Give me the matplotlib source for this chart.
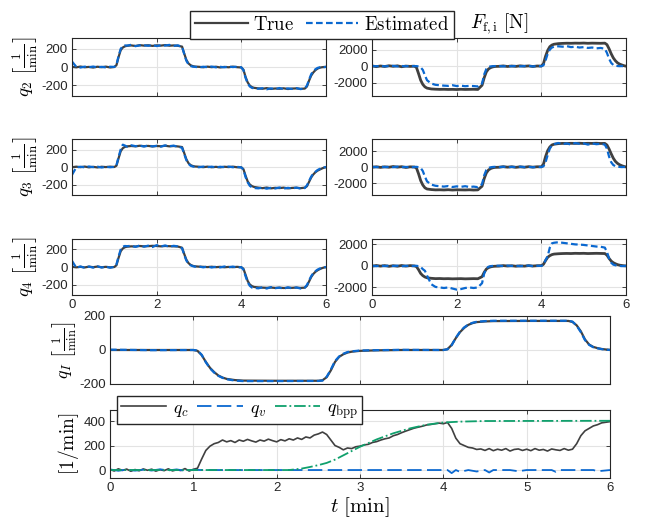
import numpy as np
import matplotlib
matplotlib.use('Agg')
import matplotlib.pyplot as plt

plt.rcParams['font.family'] = ['Liberation Sans', 'DejaVu Sans']
plt.rcParams['mathtext.fontset'] = 'cm'
plt.rcParams['axes.unicode_minus'] = False

GRAY = '#404040'
BLUE = '#0a68d0'
GREEN = '#0fa06c'
AXC = '#262626'

# time grid of the six small panels [min]
t_q = [0.0, 0.1, 0.2, 0.3, 0.4, 0.5, 0.6, 0.7, 0.8, 0.9, 1.0,
       1.05, 1.1, 1.15, 1.2, 1.25, 1.3,
       1.4, 1.5, 1.6, 1.7, 1.8, 1.9, 2.0, 2.1, 2.2, 2.3, 2.4, 2.5, 2.6,
       2.65, 2.7, 2.75, 2.8, 2.85, 2.9,
       3.0, 3.1, 3.2, 3.3, 3.4, 3.5, 3.6, 3.7, 3.8, 3.9, 4.0,
       4.05, 4.1, 4.15, 4.2, 4.25, 4.3,
       4.4, 4.5, 4.6, 4.7, 4.8, 4.9, 5.0, 5.1, 5.2, 5.3, 5.4, 5.5,
       5.55, 5.6, 5.65, 5.7, 5.75, 5.8, 5.85, 5.9, 5.95, 6.0]

# pump speeds q2..q4 [1/min]
q2_true = [2, -4, 5, -3, 1, -6, 3, -2, 4, -5, 0,
           20, 110, 185, 215, 228, 234,
           238, 232, 241, 236, 240, 233, 239, 236, 242, 235, 238, 234, 225,
           150, 80, 40, 20, 10, 5,
           2, -3, 4, -2, 3, -5, 1, -3, 4, -2, -5,
           -30, -110, -170, -205, -222, -230,
           -236, -240, -233, -242, -237, -240, -235, -243, -238, -236, -241, -238,
           -215, -150, -95, -60, -35, -18, -8, -3, 0, 2]
q2_est = [60, 3, -6, 4, -2, 5, -4, 2, -5, 3, 1,
          25, 120, 200, 230, 238, 236,
          245, 230, 238, 240, 234, 242, 231, 240, 236, 244, 232, 239, 222,
          145, 70, 30, 12, 4, 2,
          -4, 3, -2, 5, -4, 2, -3, 5, -1, 3, -4,
          -35, -120, -180, -215, -230, -236,
          -240, -234, -246, -236, -244, -232, -245, -236, -242, -233, -244, -236,
          -205, -140, -80, -45, -25, -10, -4, 0, -2, 1]
q3_true = [-3, 4, -2, 5, -4, 2, -5, 3, -1, 4, 0,
           15, 100, 180, 215, 230, 236,
           240, 236, 243, 238, 241, 235, 240, 237, 243, 236, 240, 235, 228,
           160, 90, 45, 22, 12, 6,
           3, -2, 4, -3, 2, -4, 3, -1, 4, -3, -4,
           -25, -100, -165, -200, -218, -228,
           -236, -242, -235, -244, -238, -241, -236, -244, -239, -237, -242, -236,
           -220, -170, -120, -85, -60, -42, -30, -18, -8, -2]
q3_est = [-90, -5, 3, -4, 6, -2, 4, -6, 2, -3, 1,
          20, 115, 200, 255, 245, 232,
          248, 238, 244, 234, 246, 236, 242, 233, 247, 238, 244, 232, 220,
          150, 80, 38, 15, 6, 2,
          -3, 5, -2, 4, -5, 3, -2, 5, -3, 2, -5,
          -30, -115, -175, -215, -232, -240,
          -244, -236, -248, -238, -246, -234, -247, -238, -244, -236, -246, -240,
          -210, -160, -110, -75, -55, -35, -22, -12, -5, 0]
q4_true = [3, -4, 2, -5, 4, -2, 5, -3, 2, -4, 0,
           20, 105, 180, 212, 226, 232,
           236, 234, 240, 236, 238, 242, 240, 236, 240, 238, 236, 234, 220,
           150, 85, 45, 25, 14, 8,
           4, 2, -1, 3, -2, 2, -3, 1, -2, 2, -3,
           -20, -90, -160, -200, -218, -228,
           -233, -236, -238, -235, -239, -236, -240, -237, -238, -235, -239, -236,
           -215, -165, -115, -80, -55, -38, -25, -14, -6, -2]
q4_est = [70, -8, 6, -9, 5, -7, 8, -6, 4, -8, 2,
          30, 120, 200, 232, 240, 238,
          242, 230, 246, 232, 244, 228, 250, 235, 246, 232, 242, 236, 215,
          140, 75, 38, 20, 10, 4,
          6, -4, 5, -6, 3, -5, 6, -3, 5, -6, -2,
          -30, -105, -175, -215, -235, -238,
          -244, -232, -246, -230, -242, -236, -248, -232, -244, -234, -246, -236,
          -205, -155, -105, -70, -48, -30, -18, -8, -4, 0]

# friction forces F_f,i [N]
f2_true = [30, -60, 20, -40, 50, -20, 40, -70, 10, -30, 0,
           -150, -900, -1700, -2200, -2500, -2650,
           -2750, -2780, -2800, -2790, -2810, -2800, -2820, -2790, -2810, -2800, -2790, -2810, -2300,
           -1400, -700, -350, -180, -90, -40,
           -20, 30, -40, 20, -30, 40, -10, 30, -40, 20, 10,
           300, 1200, 1900, 2350, 2550, 2650,
           2720, 2750, 2770, 2760, 2780, 2770, 2790, 2760, 2780, 2770, 2760, 2780,
           2600, 2100, 1500, 1000, 650, 400, 250, 150, 60, 0]
f2_est = [20, -10, 30, -20, 10, 40, -30, 20, -10, 30, 0,
          10, -30, -150, -450, -1100, -1700,
          -2100, -2250, -2300, -2350, -2380, -2300, -2400, -2350, -2420, -2380, -2400, -2450, -2100,
          -1000, -350, -100, -30, 0, 10,
          20, -30, 40, -10, 30, -20, 10, 40, -30, 20, 0,
          100, 700, 1500, 2000, 2250, 2350,
          2400, 2350, 2420, 2300, 2350, 2250, 2300, 2200, 2250, 2150, 2200, 2100,
          1600, 900, 400, 150, 50, 20, 0, 10, -10, 0]
f3_true = [-40, 30, -50, 20, -30, 60, -20, 40, -60, 20, 0,
           -120, -850, -1700, -2250, -2600, -2750,
           -2820, -2860, -2850, -2870, -2840, -2880, -2850, -2860, -2870, -2850, -2880, -2860, -2400,
           -1450, -750, -380, -200, -100, -50,
           -30, 40, -20, 30, -40, 20, -30, 40, -20, 30, 20,
           350, 1300, 2050, 2500, 2750, 2850,
           2920, 2950, 2940, 2960, 2950, 2970, 2940, 2960, 2950, 2970, 2940, 2950,
           2750, 2250, 1650, 1100, 700, 450, 280, 160, 70, 10]
f3_est = [30, -20, 40, -10, 20, -30, 50, -20, 10, -40, 0,
          20, -20, -120, -500, -1200, -1800,
          -2200, -2350, -2400, -2450, -2380, -2500, -2420, -2480, -2400, -2500, -2450, -2520, -2150,
          -1050, -380, -120, -40, 0, 20,
          -10, 30, -30, 20, -20, 40, -10, 20, -30, 10, 0,
          80, 600, 1500, 2300, 2700, 2850,
          3000, 2850, 2950, 2800, 3000, 2900, 2950, 2800, 2950, 2850, 2900, 2800,
          2300, 1300, 600, 250, 100, 40, 10, -10, 0, -20]
f4_true = [-30, 40, -20, 30, -40, 20, -30, 40, -20, 30, 0,
           -60, -350, -700, -900, -1030, -1100,
           -1150, -1180, -1170, -1190, -1180, -1200, -1190, -1180, -1200, -1190, -1180, -1190, -1000,
           -600, -300, -160, -90, -50, -30,
           -20, 30, -10, 20, -30, 10, -20, 30, -10, 20, 30,
           150, 500, 800, 950, 1050, 1100,
           1130, 1150, 1160, 1150, 1170, 1160, 1170, 1150, 1160, 1170, 1160, 1150,
           1000, 700, 450, 300, 200, 120, 70, 40, 15, 0]
f4_est = [20, -30, 40, -20, 30, -10, 20, -40, 10, -20, 0,
          10, -20, -100, -300, -450, -900,
          -1700, -1950, -2000, -2050, -2000, -2100, -2200, -2150, -2050, -2000, -2050, -2000, -1600,
          -700, -250, -80, -20, 0, 10,
          20, -20, 30, -10, 20, -30, 10, 30, -20, 10, 0,
          100, 550, 900, 1700, 2100, 2150,
          2200, 2150, 2100, 2050, 2000, 1980, 1950, 1900, 1850, 1800, 1780, 1700,
          1300, 700, 300, 120, 60, 20, 0, -20, -10, 0]

# q_I
t_I = [0.0, 0.5, 1.0,
       1.05, 1.1, 1.15, 1.2, 1.25, 1.3, 1.35, 1.4,
       1.5, 1.6, 2.0, 2.5,
       2.55, 2.6, 2.65, 2.7, 2.75, 2.8, 2.85, 2.9,
       3.0, 3.2, 3.5, 4.0,
       4.05, 4.1, 4.15, 4.2, 4.25, 4.3, 4.35, 4.4,
       4.5, 4.6, 5.0, 5.5,
       5.55, 5.6, 5.65, 5.7, 5.75, 5.8, 5.85, 5.9, 5.95, 6.0]
qI_true = [0, 0, 0,
           -5, -30, -70, -105, -130, -150, -162, -170,
           -177, -180, -181, -181,
           -178, -160, -120, -70, -40, -25, -15, -10,
           -5, -2, 0, 0,
           5, 30, 70, 105, 130, 148, 158, 164,
           168, 170, 171, 171,
           165, 145, 110, 62, 32, 18, 11, 6, 3, 1]
qI_est = [2, -1, 0,
          -3, -28, -72, -108, -133, -152, -164, -172,
          -180, -183, -183, -182,
          -180, -158, -115, -65, -38, -22, -12, -8,
          -3, -1, 1, 0,
          4, 28, 72, 108, 133, 150, 160, 166,
          170, 172, 172, 172,
          167, 143, 105, 58, 30, 16, 10, 5, 2, 0]

# flows, q_c sampled every 0.05 min
q_c = [5, -8, 10, -3, 8, -10, 4, -6, 9, -2, 7, -9, 3, -5, 10, -7, 2, -4, 12, -8,
       6, 15, 90, 160, 195, 215, 225, 245, 230, 240, 225, 245, 235, 250, 238, 228, 245, 236, 252, 240,
       230, 248, 238, 255, 245, 262, 250, 270, 262, 285, 295, 310, 290, 245, 200, 185, 165, 180, 175, 190,
       195, 205, 210, 225, 232, 245, 255, 262, 280, 290, 305, 318, 330, 342, 350, 358, 368, 372, 378, 383,
       378, 388, 340, 260, 215, 200, 185, 180, 168, 172, 160, 175, 158, 170, 162, 175, 155, 168, 172, 160,
       170, 158, 175, 162, 168, 155, 172, 165, 160, 175, 162, 170, 215, 280, 320, 340, 360, 370, 385, 390,
       395]
t_v = [0.0, 0.1, 0.2, 0.3, 0.4, 0.5, 0.6, 0.7, 0.8, 0.9, 1.0, 1.1,
       4.05, 4.1, 4.15, 4.2, 4.3, 4.4, 4.5, 4.55, 4.6, 4.8, 4.9, 5.0,
       5.3, 5.35, 5.4, 5.8, 5.85, 6.0]
q_v = [5, -6, 4, -5, 3, -4, 6, -3, 5, -6, 2, 0,
       0, -25, 0, -15, 0, -12, 0, -20, 0, 0, -10, 0,
       0, -15, 0, 0, -10, 0]
t_bpp = [0.0, 2.15, 2.3, 2.4, 2.5, 2.6, 2.7, 2.8, 2.9, 3.0, 3.2, 3.4, 3.6, 3.8, 4.0, 4.2, 4.5, 6.0]
q_bpp = [0, 0, 12, 25, 40, 58, 85, 120, 155, 190, 250, 300, 340, 370, 388, 395, 400, 402]

t_c = np.linspace(0, 6, len(q_c))


def style(ax, xt, yt, ylim, show_x):
    ax.set_xlim(0, 6)
    ax.set_ylim(*ylim)
    ax.set_xticks(xt)
    ax.set_yticks(yt)
    if not show_x:
        ax.set_xticklabels([])
    ax.grid(True, color='#e3e3e3', lw=0.8)
    ax.set_axisbelow(True)
    ax.tick_params(direction='in', length=3, width=0.6, top=True, right=True,
                   labelsize=9.5, colors=AXC, pad=3)
    for s in ax.spines.values():
        s.set_color(AXC)
        s.set_linewidth(0.8)


fig = plt.figure(figsize=(6.48, 5.23), dpi=100)
W, H = 648.0, 523.0

rows = [(38, 96), (139, 195), (239, 295)]
left_data = [(q2_true, q2_est, '2'), (q3_true, q3_est, '3'), (q4_true, q4_est, '4')]
right_data = [(f2_true, f2_est), (f3_true, f3_est), (f4_true, f4_est)]
right_ylims = [(-3600, 3400), (-3500, 3500), (-2700, 2500)]

for i, (y0, y1) in enumerate(rows):
    bot = 1 - y1 / H
    h = (y1 - y0) / H
    axl = fig.add_axes([72 / W, bot, 254 / W, h])
    tr, es, k = left_data[i]
    l1, = axl.plot(t_q, tr, color=GRAY, lw=1.6)
    l2, = axl.plot(t_q, es, color=BLUE, lw=1.6, dashes=(3, 1.5))
    style(axl, [0, 2, 4, 6], [-200, 0, 200], (-320, 320), i == 2)
    axl.set_ylabel(r'$q_%s\ \left[\frac{1}{\mathrm{min}}\right]$' % k, fontsize=13.5, labelpad=1)

    axr = fig.add_axes([372 / W, bot, 254 / W, h])
    tr, es = right_data[i]
    axr.plot(t_q, tr, color=GRAY, lw=2.0)
    axr.plot(t_q, es, color=BLUE, lw=1.6, dashes=(3, 1.5))
    style(axr, [0, 2, 4, 6], [-2000, 0, 2000], right_ylims[i], i == 2)
    if i == 0:
        axr.set_title(r'$F_{\mathrm{f,i}}\ [\mathrm{N}]$', fontsize=14, pad=7)

fig.legend([l1, l2], [r'$\mathrm{True}$', r'$\mathrm{Estimated}$'], loc='center',
           bbox_to_anchor=(322 / W, 1 - 25 / H), ncol=2, fontsize=13.5, handlelength=2.8,
           handletextpad=0.3, columnspacing=0.6, fancybox=False, framealpha=1,
           edgecolor=AXC, borderpad=0.25)

# q_I panel
axI = fig.add_axes([110 / W, 1 - 384 / H, 500 / W, 68 / H])
axI.plot(t_I, qI_true, color=GRAY, lw=1.6)
axI.plot(t_I, qI_est, color=BLUE, lw=1.6, dashes=(3, 1.5))
style(axI, [0, 1, 2, 3, 4, 5, 6], [-200, 0, 200], (-200, 200), False)
axI.set_ylabel(r'$q_I\ \left[\frac{1}{\mathrm{min}}\right]$', fontsize=13, labelpad=1)

# flows panel
axB = fig.add_axes([110 / W, 1 - 478 / H, 500 / W, 68 / H])
b1, = axB.plot(t_c, q_c, color=GRAY, lw=1.2)
b2, = axB.plot(t_v, q_v, color=BLUE, lw=1.3, dashes=(8, 3))
b3, = axB.plot(t_bpp, q_bpp, color=GREEN, lw=1.3, ls='-.')
style(axB, [0, 1, 2, 3, 4, 5, 6], [0, 200, 400], (-65, 490), True)
axB.set_ylabel(r'$[1/\mathrm{min}]$', fontsize=14, labelpad=2)
axB.set_xlabel(r'$t\ [\mathrm{min}]$', fontsize=15, labelpad=1)
axB.legend([b1, b2, b3], [r'$q_c$', r'$q_v$', r'$q_{\mathrm{bpp}}$'], loc='upper left',
           bbox_to_anchor=(117 / W, 1 - 396 / H), bbox_transform=fig.transFigure,
           ncol=3, fontsize=13, handlelength=2.5, handletextpad=0.4, columnspacing=0.5,
           fancybox=False, framealpha=1, edgecolor=AXC, borderpad=0.2, borderaxespad=0)

fig.savefig('out.png', dpi=100)
